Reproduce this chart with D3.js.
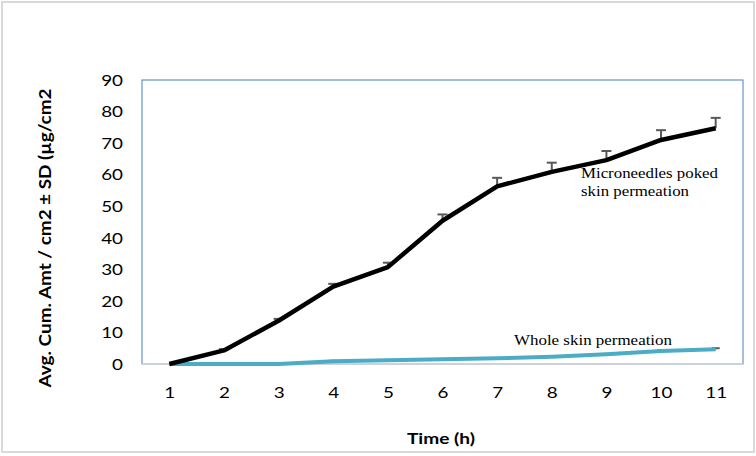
<!DOCTYPE html>
<html><head><meta charset="utf-8">
<script src="https://cdn.jsdelivr.net/npm/d3@7/dist/d3.min.js"></script>
<style>html,body{margin:0;padding:0;background:#fff;}svg{display:block;}</style>
</head><body>
<script>
const hours = ["1","2","3","4","5","6","7","8","9","10","11"];
const microneedles = [0, 4.3, 13.7, 24.5, 30.7, 45.4, 56.3, 60.9, 64.6, 71.0, 74.7];
const microneedlesSD = [0, 0.4, 0.6, 0.9, 1.4, 2.0, 2.7, 2.9, 2.9, 3.1, 3.3];
const wholeSkin = [0, 0, 0, 0.9, 1.2, 1.5, 1.8, 2.3, 3.1, 4.1, 4.7];
const wholeSkinSD = [0, 0, 0, 0.1, 0.1, 0.1, 0.1, 0.1, 0.1, 0.2, 0.3];
const yTicks = [0,10,20,30,40,50,60,70,80,90];
const yTitle = "Avg. Cum. Amt / cm2 \u00b1 SD (\u00b5g/cm2";
const xTitle = "Time (h)";
const labelMicro = ["Microneedles poked", "skin permeation"];
const labelWhole = "Whole skin permeation";

const W = 756, H = 456;
const L = 142, T = 80, R = 743, B = 364;
const svg = d3.select("body").append("svg").attr("width", W).attr("height", H);

svg.append("rect").attr("x",2).attr("y",2).attr("width",W-4).attr("height",H-6)
  .attr("fill","#fff").attr("stroke","#d9d9d9").attr("stroke-width",2);

const x = d3.scalePoint().domain(hours).range([L, R]).padding(0.5);
const y = d3.scaleLinear().domain([0, 90]).range([B, T]);

svg.append("rect").attr("x",L).attr("y",T).attr("width",R-L).attr("height",B-T)
  .attr("fill","none").attr("stroke","#4a7ebb").attr("stroke-width",1);
svg.append("line").attr("x1",L).attr("x2",R).attr("y1",B).attr("y2",B)
  .attr("stroke","#d9d9d9").attr("stroke-width",1.5);

const sx = 1.3;
const yAxis = svg.append("g").attr("transform",`translate(${L},0)`)
  .call(d3.axisLeft(y).tickValues(yTicks).tickSize(0).tickPadding(0));
yAxis.select(".domain").remove();
yAxis.selectAll("text")
  .attr("font-family","Lato, 'Open Sans', sans-serif").attr("font-size",14.5).attr("fill","#000")
  .attr("text-anchor","end").attr("x", -19/sx).attr("dy","0.36em")
  .attr("transform",`scale(${sx},1)`);

const xAxis = svg.append("g").attr("transform",`translate(0,${B})`)
  .call(d3.axisBottom(x).tickSize(0).tickPadding(0));
xAxis.select(".domain").remove();
xAxis.selectAll(".tick").each(function(d){
  const t = d3.select(this).select("text");
  t.attr("font-family","Lato, 'Open Sans', sans-serif").attr("font-size",14.5).attr("fill","#000")
   .attr("text-anchor","middle").attr("x",0).attr("y",0).attr("dy",0)
   .attr("transform",`translate(0,34) scale(${sx},1)`);
});

const line = d3.line().x((d,i)=>x(hours[i])).y(d=>y(d));

const eb = svg.append("g").attr("stroke","#595959").attr("stroke-width",2);
microneedles.forEach((v,i)=>{
  if (!microneedlesSD[i]) return;
  const cx = x(hours[i]);
  eb.append("line").attr("x1",cx).attr("x2",cx).attr("y1",y(v)).attr("y2",y(v+microneedlesSD[i]));
  eb.append("line").attr("x1",cx-5).attr("x2",cx+5).attr("y1",y(v+microneedlesSD[i])).attr("y2",y(v+microneedlesSD[i]));
});
wholeSkin.forEach((v,i)=>{
  if (!wholeSkinSD[i]) return;
  const cx = x(hours[i]);
  eb.append("line").attr("x1",cx).attr("x2",cx).attr("y1",y(v)).attr("y2",y(v+wholeSkinSD[i]));
  eb.append("line").attr("x1",cx-4).attr("x2",cx+4).attr("y1",y(v+wholeSkinSD[i])).attr("y2",y(v+wholeSkinSD[i]));
});

svg.append("path").datum(wholeSkin).attr("d",line).attr("fill","none")
  .attr("stroke","#4bacc6").attr("stroke-width",4).attr("stroke-linejoin","round");
svg.append("path").datum(microneedles).attr("d",line).attr("fill","none")
  .attr("stroke","#000").attr("stroke-width",4.5).attr("stroke-linejoin","round");

const serif = "'Liberation Serif', 'Times New Roman', serif";
svg.append("text").attr("x",581).attr("y",178).attr("font-family",serif).attr("font-size",15)
  .attr("textLength",137).attr("lengthAdjust","spacingAndGlyphs").text(labelMicro[0]);
svg.append("text").attr("x",581).attr("y",196).attr("font-family",serif).attr("font-size",15)
  .attr("textLength",108).attr("lengthAdjust","spacingAndGlyphs").text(labelMicro[1]);
svg.append("text").attr("x",514).attr("y",345).attr("font-family",serif).attr("font-size",15)
  .attr("textLength",158).attr("lengthAdjust","spacingAndGlyphs").text(labelWhole);

svg.append("text").attr("x",441).attr("y",444).attr("text-anchor","middle")
  .attr("font-family","Lato, 'Open Sans', sans-serif").attr("font-weight","bold").attr("font-size",16)
  .attr("textLength",68).attr("lengthAdjust","spacingAndGlyphs").text(xTitle);
svg.append("text").attr("transform","translate(51,238) rotate(-90)").attr("text-anchor","middle")
  .attr("font-family","Lato, 'Open Sans', sans-serif").attr("font-weight","bold").attr("font-size",17)
  .attr("textLength",299).attr("lengthAdjust","spacingAndGlyphs").text(yTitle);
</script>
</body></html>
